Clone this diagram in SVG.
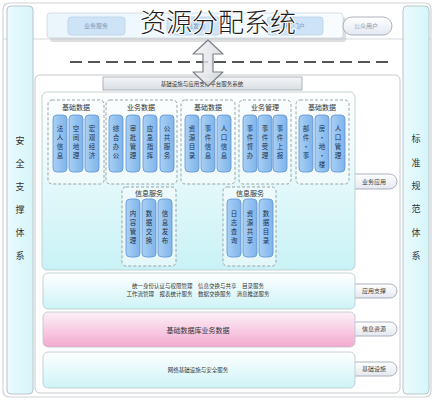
<svg xmlns="http://www.w3.org/2000/svg" width="434" height="400" viewBox="0 0 434 400">
<defs>
<linearGradient id="gSide" x1="0" y1="0" x2="1" y2="0"><stop offset="0" stop-color="#eafbfd"/><stop offset="1" stop-color="#d6f5f9"/></linearGradient>
<linearGradient id="gPanel" x1="0" y1="0" x2="0" y2="1"><stop offset="0" stop-color="#ffffff"/><stop offset="1" stop-color="#c9f2f6"/></linearGradient>
<linearGradient id="gBand" x1="0" y1="0" x2="0" y2="1"><stop offset="0" stop-color="#ffffff"/><stop offset="1" stop-color="#cdf3f7"/></linearGradient>
<linearGradient id="gPink" x1="0" y1="0" x2="0" y2="1"><stop offset="0" stop-color="#fdf1f7"/><stop offset="1" stop-color="#f3a9cf"/></linearGradient>
<linearGradient id="gBlue" x1="0" y1="0" x2="1" y2="0"><stop offset="0" stop-color="#a9d0f5"/><stop offset="1" stop-color="#7fb4ea"/></linearGradient>
<linearGradient id="gPill" x1="0" y1="0" x2="0" y2="1"><stop offset="0" stop-color="#ffffff"/><stop offset="1" stop-color="#e4e8f0"/></linearGradient>
<linearGradient id="gTab" x1="0" y1="0" x2="0" y2="1"><stop offset="0" stop-color="#f4f6f8"/><stop offset="1" stop-color="#d9dde2"/></linearGradient>
<linearGradient id="gTop" x1="0" y1="0" x2="1" y2="0"><stop offset="0" stop-color="#eaf6fc"/><stop offset="1" stop-color="#f8fcfe"/></linearGradient>
<linearGradient id="gArrow" x1="0" y1="0" x2="1" y2="0"><stop offset="0" stop-color="#f2f3f5"/><stop offset="1" stop-color="#d5d8dc"/></linearGradient>
</defs>
<style>
text{font-family:"Noto Sans CJK SC","Noto Sans CJK TC",sans-serif}
.col{fill:url(#gBlue);stroke:#5f93d2;stroke-width:0.8}
.ct{font-size:6.5px;fill:#22324a;text-anchor:middle}
.grp{fill:#f8fbfc;fill-opacity:0.55;stroke:#9ba3a8;stroke-width:1;stroke-dasharray:3 2}
.gt{font-size:7px;fill:#333;text-anchor:middle}
.pill{fill:url(#gPill);stroke:#9aa0ae;stroke-width:0.8}
.pt{font-size:6px;fill:#444;text-anchor:middle}
.side{fill:url(#gSide);stroke:#b8c4c8;stroke-width:1}
.vt{font-size:9px;fill:#333;text-anchor:middle}
.band{stroke:#b9c6c9;stroke-width:0.8}
.bt{font-size:5.5px;fill:#333;text-anchor:middle}
.btn{fill:#cfe3f6;stroke:#b9d2ea;stroke-width:0.8}
.btt{font-size:6px;fill:#7f9ab8;text-anchor:middle}
</style>
<rect x="0" y="0" width="434" height="400" fill="#ffffff"/>
<rect id="frame" x="3" y="3" width="428" height="394" rx="6" fill="none" stroke="#cfd3d6" stroke-width="1.2"/>
<line x1="3" y1="39" x2="431" y2="39" stroke="#d5d9dc" stroke-width="1"/>

<g id="left-panel">
<rect class="side" x="7" y="6" width="26" height="388" rx="4"/>
<text class="vt"><tspan x="20" y="144">安</tspan><tspan x="20" y="167">全</tspan><tspan x="20" y="190">支</tspan><tspan x="20" y="213">撑</tspan><tspan x="20" y="236">体</tspan><tspan x="20" y="259">系</tspan></text>
</g>
<g id="right-panel">
<rect class="side" x="403" y="6" width="26" height="388" rx="4"/>
<text class="vt"><tspan x="416" y="142">标</tspan><tspan x="416" y="166">准</tspan><tspan x="416" y="189">规</tspan><tspan x="416" y="212">范</tspan><tspan x="416" y="236">体</tspan><tspan x="416" y="259">系</tspan></text>
</g>

<g id="top-bar">
<rect x="50" y="17" width="296" height="25" rx="3" fill="#c4c8cc" opacity="0.6"/>
<rect x="47" y="13" width="296" height="25" rx="3" fill="url(#gTop)" stroke="#cdd5da" stroke-width="0.8"/>
<rect class="btn" x="68" y="17" width="57" height="18" rx="3"/>
<text class="btt" x="96" y="28">业务服务</text>
<rect class="btn" x="167" y="17" width="53" height="18" rx="3"/>
<text class="btt" x="193" y="28">信息发布</text>
<rect class="btn" x="267" y="17" width="56" height="18" rx="3"/>
<text class="btt" x="295" y="28">PC门户</text>
</g>
<g id="user-oval">
<rect class="pill" x="343" y="17" width="49" height="18" rx="9"/>
<text class="btt" x="366" y="28" fill="#8a98a8">公众用户</text>
</g>

<line x1="70" y1="62" x2="393" y2="62" stroke="#555" stroke-width="2" stroke-dasharray="12 6"/>

<g id="main-container">
<rect x="35" y="75" width="365" height="318" rx="5" fill="#ffffff" stroke="#c4c9cc" stroke-width="1"/>
</g>

<g id="pills">
<rect class="pill" x="346" y="174" width="51" height="15" rx="7.5"/>
<text class="pt" x="374" y="184">业务应用</text>
<rect class="pill" x="346" y="284" width="51" height="14" rx="7"/>
<text class="pt" x="374" y="293">应用支撑</text>
<rect class="pill" x="346" y="322" width="51" height="14" rx="7"/>
<text class="pt" x="374" y="331">信息资源</text>
<rect class="pill" x="346" y="362" width="51" height="14" rx="7"/>
<text class="pt" x="374" y="371">基础设施</text>
</g>

<g id="header-tab">
<rect x="103" y="77" width="199" height="13" fill="url(#gTab)" stroke="#9ea6ac" stroke-width="0.8"/>
<text x="202" y="86" font-size="5.5" fill="#333" text-anchor="middle">基础设施与应用支撑平台服务系统</text>
</g>

<g id="app-panel">
<rect x="42" y="92" width="313" height="178" rx="5" fill="url(#gPanel)" stroke="#b9c6c9" stroke-width="0.8"/>
</g>

<g id="group1">
<rect class="grp" x="48" y="100" width="56" height="84" rx="4"/>
<text class="gt" x="76" y="110">基础数据</text>
<rect class="col" x="53" y="115" width="14" height="57" rx="4"/>
<rect class="col" x="69" y="115" width="14" height="57" rx="4"/>
<rect class="col" x="85" y="115" width="14" height="57" rx="4"/>
<text class="ct"><tspan x="60" y="131">法</tspan><tspan x="60" y="140">人</tspan><tspan x="60" y="149">信</tspan><tspan x="60" y="158">息</tspan></text>
<text class="ct"><tspan x="76" y="131">空</tspan><tspan x="76" y="140">间</tspan><tspan x="76" y="149">地</tspan><tspan x="76" y="158">理</tspan></text>
<text class="ct"><tspan x="92" y="131">宏</tspan><tspan x="92" y="140">观</tspan><tspan x="92" y="149">经</tspan><tspan x="92" y="158">济</tspan></text>
</g>

<g id="group2">
<rect class="grp" x="106" y="100" width="71" height="84" rx="4"/>
<text class="gt" x="141" y="110">业务数据</text>
<rect class="col" x="109" y="115" width="14" height="57" rx="4"/>
<rect class="col" x="126" y="115" width="14" height="57" rx="4"/>
<rect class="col" x="143" y="115" width="14" height="57" rx="4"/>
<rect class="col" x="160" y="115" width="14" height="57" rx="4"/>
<text class="ct"><tspan x="116" y="131">综</tspan><tspan x="116" y="140">合</tspan><tspan x="116" y="149">办</tspan><tspan x="116" y="158">公</tspan></text>
<text class="ct"><tspan x="133" y="131">审</tspan><tspan x="133" y="140">批</tspan><tspan x="133" y="149">管</tspan><tspan x="133" y="158">理</tspan></text>
<text class="ct"><tspan x="150" y="131">应</tspan><tspan x="150" y="140">急</tspan><tspan x="150" y="149">指</tspan><tspan x="150" y="158">挥</tspan></text>
<text class="ct"><tspan x="167" y="131">公</tspan><tspan x="167" y="140">共</tspan><tspan x="167" y="149">服</tspan><tspan x="167" y="158">务</tspan></text>
</g>

<g id="group3">
<rect class="grp" x="181" y="100" width="54" height="84" rx="4"/>
<text class="gt" x="208" y="110">基础数据</text>
<rect class="col" x="185" y="115" width="14" height="57" rx="4"/>
<rect class="col" x="201" y="115" width="14" height="57" rx="4"/>
<rect class="col" x="217" y="115" width="14" height="57" rx="4"/>
<text class="ct"><tspan x="192" y="131">资</tspan><tspan x="192" y="140">源</tspan><tspan x="192" y="149">目</tspan><tspan x="192" y="158">录</tspan></text>
<text class="ct"><tspan x="208" y="131">事</tspan><tspan x="208" y="140">件</tspan><tspan x="208" y="149">信</tspan><tspan x="208" y="158">息</tspan></text>
<text class="ct"><tspan x="224" y="131">人</tspan><tspan x="224" y="140">口</tspan><tspan x="224" y="149">信</tspan><tspan x="224" y="158">息</tspan></text>
</g>

<g id="group4">
<rect class="grp" x="239" y="100" width="52" height="84" rx="4"/>
<text class="gt" x="265" y="110">业务管理</text>
<rect class="col" x="243" y="115" width="14" height="57" rx="4"/>
<rect class="col" x="258" y="115" width="14" height="57" rx="4"/>
<rect class="col" x="273" y="115" width="14" height="57" rx="4"/>
<text class="ct"><tspan x="250" y="131">事</tspan><tspan x="250" y="140">件</tspan><tspan x="250" y="149">督</tspan><tspan x="250" y="158">办</tspan></text>
<text class="ct"><tspan x="265" y="131">事</tspan><tspan x="265" y="140">件</tspan><tspan x="265" y="149">受</tspan><tspan x="265" y="158">理</tspan></text>
<text class="ct"><tspan x="280" y="131">事</tspan><tspan x="280" y="140">件</tspan><tspan x="280" y="149">上</tspan><tspan x="280" y="158">报</tspan></text>
</g>

<g id="group5">
<rect class="grp" x="296" y="100" width="53" height="84" rx="4"/>
<text class="gt" x="322" y="110">基础数据</text>
<rect class="col" x="299" y="115" width="14" height="57" rx="4"/>
<rect class="col" x="315" y="115" width="14" height="57" rx="4"/>
<rect class="col" x="331" y="115" width="14" height="57" rx="4"/>
<text class="ct"><tspan x="306" y="131">部</tspan><tspan x="306" y="140">件</tspan><tspan x="306" y="149">·</tspan><tspan x="306" y="158">事</tspan></text>
<text class="ct"><tspan x="322" y="131">房</tspan><tspan x="322" y="140">·</tspan><tspan x="322" y="149">地</tspan><tspan x="322" y="158">·</tspan><tspan x="322" y="167">楼</tspan></text>
<text class="ct"><tspan x="338" y="131">人</tspan><tspan x="338" y="140">口</tspan><tspan x="338" y="149">管</tspan><tspan x="338" y="158">理</tspan></text>
</g>

<g id="group6">
<rect class="grp" x="122" y="187" width="54" height="79" rx="4"/>
<text class="gt" x="149" y="196">信息服务</text>
<rect class="col" x="126" y="199" width="14" height="58" rx="4"/>
<rect class="col" x="142" y="199" width="14" height="58" rx="4"/>
<rect class="col" x="158" y="199" width="14" height="58" rx="4"/>
<text class="ct"><tspan x="133" y="216">内</tspan><tspan x="133" y="225">容</tspan><tspan x="133" y="234">管</tspan><tspan x="133" y="243">理</tspan></text>
<text class="ct"><tspan x="149" y="216">数</tspan><tspan x="149" y="225">据</tspan><tspan x="149" y="234">交</tspan><tspan x="149" y="243">换</tspan></text>
<text class="ct"><tspan x="165" y="216">信</tspan><tspan x="165" y="225">息</tspan><tspan x="165" y="234">发</tspan><tspan x="165" y="243">布</tspan></text>
</g>

<g id="group7">
<rect class="grp" x="223" y="187" width="53" height="79" rx="4"/>
<text class="gt" x="250" y="196">信息服务</text>
<rect class="col" x="227" y="199" width="14" height="58" rx="4"/>
<rect class="col" x="243" y="199" width="14" height="58" rx="4"/>
<rect class="col" x="259" y="199" width="14" height="58" rx="4"/>
<text class="ct"><tspan x="234" y="216">日</tspan><tspan x="234" y="225">志</tspan><tspan x="234" y="234">查</tspan><tspan x="234" y="243">询</tspan></text>
<text class="ct"><tspan x="250" y="216">资</tspan><tspan x="250" y="225">源</tspan><tspan x="250" y="234">共</tspan><tspan x="250" y="243">享</tspan></text>
<text class="ct"><tspan x="266" y="216">数</tspan><tspan x="266" y="225">据</tspan><tspan x="266" y="234">目</tspan><tspan x="266" y="243">录</tspan></text>
</g>

<g id="band-support">
<rect class="band" x="43" y="273" width="312" height="36" rx="5" fill="url(#gBand)"/>
<text class="bt" x="198" y="288">统一身份认证与权限管理　信息交换与共享　目录服务</text>
<text class="bt" x="198" y="296">工作流管理　报表统计服务　数据交换服务　消息推送服务</text>
</g>
<g id="band-data">
<rect class="band" x="43" y="312" width="312" height="35" rx="5" fill="url(#gPink)" stroke="#d8a9c0"/>
<text x="198" y="333" font-size="7" fill="#333" text-anchor="middle">基础数据库业务数据</text>
</g>
<g id="band-infra">
<rect class="band" x="43" y="352" width="312" height="36" rx="5" fill="url(#gBand)"/>
<text class="bt" x="198" y="372">网络基础设施与安全服务</text>
</g>

<g id="connectors">
<polygon points="208,40 223,54 213,54 213,72 223,72 208,86 193,72 203,72 203,54 193,54" fill="url(#gArrow)" fill-opacity="0.8" stroke="#7d8287" stroke-width="1.2" stroke-linejoin="round"/>
</g>

<text x="218" y="32" font-size="26" font-weight="300" fill="#1e1e1e" text-anchor="middle" stroke="#ffffff" stroke-width="2" paint-order="stroke">资源分配系统</text>
</svg>
